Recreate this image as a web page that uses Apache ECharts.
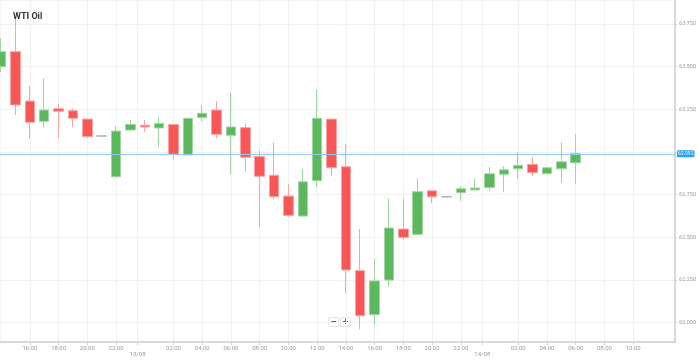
<!DOCTYPE html>
<html>
<head>
<meta charset="utf-8">
<script src="https://cdn.jsdelivr.net/npm/echarts@6/dist/echarts.min.js"></script>
<style>html,body{margin:0;padding:0;background:#fff}#c{width:699px;height:360px}</style>
</head>
<body>
<div id="c"></div>
<script>
// hours since 16:00 12/08
const hours = [-2,-1,0,1,2,3,4,5,6,7,8,9,10,11,12,13,14,15,16,17,18,19,20,21,22,23,24,25,26,27,28,29,30,31,32,33,34,35,36,37,38];
const opens  = [63.500,63.588,63.299,63.180,63.254,63.242,63.193,63.094,62.855,63.129,63.157,63.141,63.162,62.983,63.203,63.246,63.098,63.143,62.975,62.864,62.742,62.625,62.832,63.193,62.914,62.305,62.047,62.250,62.549,62.518,62.773,62.738,62.762,62.778,62.793,62.870,62.902,62.928,62.873,62.902,62.937];
const closes = [63.588,63.276,63.174,63.246,63.239,63.198,63.090,63.094,63.123,63.162,63.147,63.168,62.987,63.198,63.227,63.104,63.147,62.969,62.858,62.738,62.629,62.826,63.198,62.908,62.309,62.041,62.245,62.555,62.500,62.768,62.738,62.738,62.785,62.789,62.873,62.896,62.922,62.879,62.908,62.943,62.992];
const lows   = [63.469,63.217,63.080,63.143,63.080,63.145,63.080,63.094,62.852,63.127,63.119,63.031,62.959,62.980,63.178,63.080,62.870,62.885,62.563,62.723,62.621,62.622,62.793,62.860,62.172,61.962,61.983,62.211,62.485,62.514,62.700,62.738,62.715,62.778,62.772,62.764,62.840,62.861,62.873,62.820,62.811];
const highs  = [63.666,63.783,63.387,63.432,63.285,63.256,63.197,63.094,63.152,63.188,63.188,63.207,63.165,63.200,63.276,63.299,63.348,63.168,63.008,63.057,62.811,62.899,63.367,63.198,63.047,62.549,62.373,62.729,62.729,62.846,62.777,62.738,62.801,62.844,62.911,62.918,63.002,62.969,62.914,63.057,63.104];
const currentPrice = 62.992;
const timeTickHours = [0,2,4,6,10,12,14,16,18,20,22,24,26,28,30,34,36,38,40,42];
const timeTickLabels = ['16:00','18:00','20:00','22:00','02:00','04:00','06:00','08:00','10:00','12:00','14:00','16:00','18:00','20:00','22:00','02:00','04:00','06:00','08:00','10:00'];
const dayTickHours = [7.5,31.5];
const dayTickLabels = ['13/08','14/08'];
const priceTicks = [62.000,62.250,62.500,62.750,63.000,63.250,63.500,63.750];
const priceLabels = ['62.000','62.250','62.500','62.750','','63.250','63.500','63.750'];

const allTickHours = timeTickHours.concat(dayTickHours).sort((a,b)=>a-b);
const labelFor = {};
timeTickHours.forEach((h,i)=>{labelFor[h]=timeTickLabels[i];});
dayTickHours.forEach((h,i)=>{labelFor[h]='\n'+dayTickLabels[i];});
const priceLabelFor = {};
priceTicks.forEach((p,i)=>{priceLabelFor[p.toFixed(3)]=priceLabels[i];});

const candleData = hours.map((h,i)=>[h,opens[i],closes[i],lows[i],highs[i]]);

const chart = echarts.init(document.getElementById('c'), null, {renderer:'canvas'});
chart.setOption({
  animation:false,
  backgroundColor:'#ffffff',
  title:{text:'WTI Oil',left:8,top:7,textStyle:{fontSize:9,fontWeight:'bold',color:'#333',fontFamily:'Roboto'}},
  grid:{left:0,right:20,top:0,bottom:18,show:true,borderColor:'#ececec',borderWidth:1},
  xAxis:{
    type:'value',min:-2.08,max:44.92,
    axisLine:{show:true,onZero:false,lineStyle:{color:'#cfcfcf',width:1.5}},
    axisTick:{show:true,customValues:allTickHours,length:3,lineStyle:{color:'#cfcfcf'}},
    axisLabel:{customValues:allTickHours,fontSize:6,lineHeight:6.5,margin:3,color:'#9a9a9a',fontFamily:'Roboto',
      formatter:v=>labelFor[v]!==undefined?labelFor[v]:''},
    splitLine:{show:true,lineStyle:{color:'#f1f1f1',width:1}}
  },
  yAxis:{
    type:'value',position:'right',min:61.887,max:63.891,scale:true,
    axisLine:{show:true,onZero:false,lineStyle:{color:'#cfcfcf',width:1.5}},
    axisTick:{show:true,customValues:priceTicks,length:2,lineStyle:{color:'#cfcfcf'}},
    axisLabel:{customValues:priceTicks,fontSize:5.5,margin:4,color:'#9a9a9a',fontFamily:'Roboto',
      formatter:v=>{const k=Number(v).toFixed(3);return priceLabelFor[k]!==undefined?priceLabelFor[k]:'';}},
    splitLine:{show:true,lineStyle:{color:'#f1f1f1',width:1}}
  },
  series:[{
    type:'candlestick',
    data:candleData,
    encode:{x:0,y:[1,2,3,4]},
    barWidth:10,
    itemStyle:{
      color:'#5cb85c',color0:'#f95656',
      borderColor:'#9fd69f',borderColor0:'#fba3a3',
      borderColorDoji:'#aaaaaa',
      borderWidth:1
    },
    markLine:{
      symbol:'none',silent:true,animation:false,
      data:[{yAxis:currentPrice}],
      lineStyle:{color:'#8ec8f0',type:'solid',width:1},
      label:{show:true,position:'end',distance:2,formatter:currentPrice.toFixed(3),
        backgroundColor:'#2a9df4',color:'#ffffff',fontSize:5,padding:[1,1],borderRadius:1,fontFamily:'Roboto'}
    }
  }],
  graphic:[
    {type:'group',left:328,top:317,children:[
      {type:'rect',shape:{x:0,y:0,width:10,height:9,r:1},style:{fill:'#fff',stroke:'#e2e2e2',lineWidth:1}},
      {type:'text',style:{x:5,y:4.5,text:'−',fill:'#555',font:'bold 8px "DejaVu Sans"',align:'center',verticalAlign:'middle'}},
      {type:'rect',shape:{x:12,y:0,width:10,height:9,r:1},style:{fill:'#fff',stroke:'#e2e2e2',lineWidth:1}},
      {type:'text',style:{x:17,y:4.5,text:'+',fill:'#555',font:'bold 8px "DejaVu Sans"',align:'center',verticalAlign:'middle'}}
    ]}
  ]
});
</script>
</body>
</html>
